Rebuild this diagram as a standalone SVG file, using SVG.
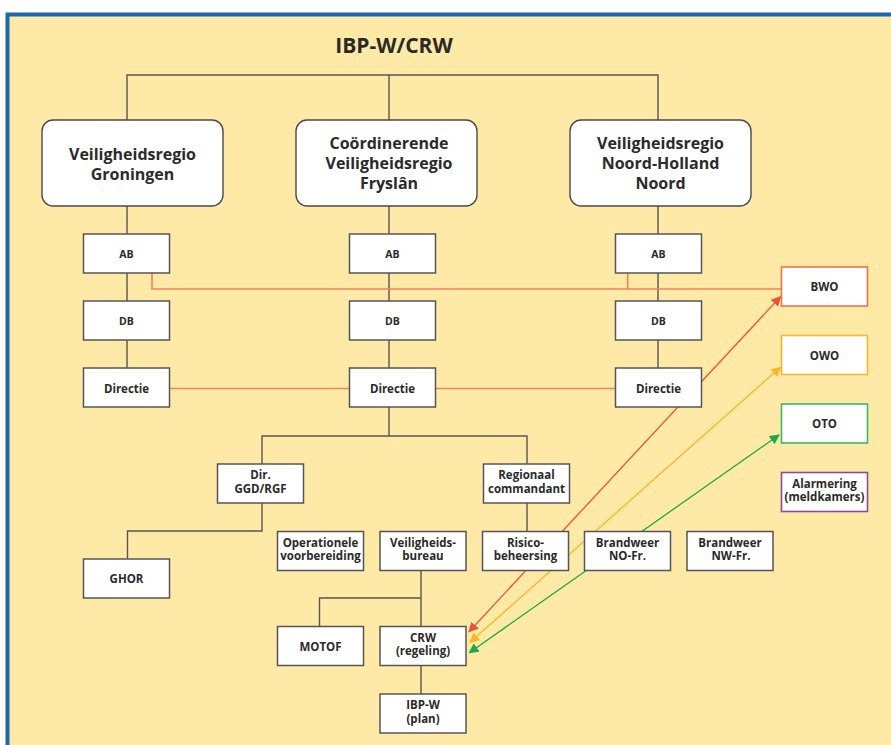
<svg xmlns="http://www.w3.org/2000/svg" width="891" height="745" viewBox="0 0 891 745">
<style>
.bg{fill:#feeaa6;stroke:#1d68ad;stroke-width:4}
.big{fill:#fff;stroke:#4a4a4a;stroke-width:1.4}
.box{fill:#fff;stroke:#555;stroke-width:1.5}
.t{font-family:"Open Sans","Noto Sans",sans-serif;font-weight:bold;fill:#2a2a2a;text-anchor:middle}
.tb{font-size:16px}
.ts{font-size:11.5px}
.tab{font-size:10.5px}
.con{fill:none;stroke:#555;stroke-width:1.4}
.org{fill:none;stroke:#f2835f;stroke-width:1.6}
</style>
<defs>
<marker id="mr" viewBox="0 0 10 10" refX="9" refY="5" markerWidth="10" markerHeight="10" markerUnits="userSpaceOnUse" orient="auto-start-reverse"><path d="M0,0 L10,5 L0,10 Z" fill="#e9533a"/></marker>
<marker id="mo" viewBox="0 0 10 10" refX="9" refY="5" markerWidth="10" markerHeight="10" markerUnits="userSpaceOnUse" orient="auto-start-reverse"><path d="M0,0 L10,5 L0,10 Z" fill="#fbb526"/></marker>
<marker id="mg" viewBox="0 0 10 10" refX="9" refY="5" markerWidth="10" markerHeight="10" markerUnits="userSpaceOnUse" orient="auto-start-reverse"><path d="M0,0 L10,5 L0,10 Z" fill="#1aa84a"/></marker>
</defs>
<rect x="0" y="0" width="891" height="745" fill="#fff"/>
<rect class="bg" x="7.5" y="14.5" width="900" height="760"/>
<text class="t" x="394" y="53" style="font-size:21px">IBP-W/CRW</text>

<g id="connectors">
<path class="con" d="M127,120 V75 H658 V120 M389,75 V120"/>
<path class="con" d="M127,206 V234 M127,273 V301 M127,340 V368"/>
<path class="con" d="M389,206 V234 M389,273 V301 M389,340 V368"/>
<path class="con" d="M658,206 V234 M658,273 V301 M658,340 V368"/>
<path class="con" d="M389,407 V436 M262,464 V436 H527 V464 M527,503 V531.5"/>
<path class="con" d="M262,503 V531 H127.5 V559"/>
<path class="con" d="M421,570.5 V598 M319.5,626.5 V598 H421 V626.5 M421,665.5 V694"/>
<path class="org" d="M152,273 V289 H781.5 M627.7,273 V289"/>
<path class="org" d="M170,388.5 H349.5 M435.5,388.5 H615.5"/>
<line x1="469" y1="631.7" x2="780.5" y2="296.7" stroke="#e9533a" stroke-width="1.3" marker-start="url(#mr)" marker-end="url(#mr)"/>
<line x1="470" y1="642.3" x2="780.5" y2="367.3" stroke="#fbb526" stroke-width="1.3" marker-start="url(#mo)" marker-end="url(#mo)"/>
<line x1="469.3" y1="652.7" x2="779" y2="435" stroke="#1aa84a" stroke-width="1.3" marker-start="url(#mg)" marker-end="url(#mg)"/>
</g>

<g id="groningen"><rect class="big" x="42" y="120" width="181" height="86" rx="11"/>
<text class="t tb" x="132.5" y="160">Veiligheidsregio</text><text class="t tb" x="132.5" y="180">Groningen</text></g>
<g id="fryslan"><rect class="big" x="296" y="120" width="181" height="86" rx="11"/>
<text class="t tb" x="389" y="149">Coördinerende</text><text class="t tb" x="389" y="169">Veiligheidsregio</text><text class="t tb" x="389" y="189">Fryslân</text></g>
<g id="nhn"><rect class="big" x="570" y="120" width="181" height="86" rx="11"/>
<text class="t tb" x="660.5" y="148.5">Veiligheidsregio</text><text class="t tb" x="660.5" y="168.5">Noord-Holland</text><text class="t tb" x="660.5" y="188.5">Noord</text></g>

<g id="ab1"><rect class="box" x="83.5" y="234" width="86" height="39"/><text class="t tab" x="126.5" y="257.5">AB</text></g>
<g id="ab2"><rect class="box" x="349.5" y="234" width="86" height="39"/><text class="t tab" x="392.5" y="257.5">AB</text></g>
<g id="ab3"><rect class="box" x="615.5" y="234" width="86" height="39"/><text class="t tab" x="658.5" y="257.5">AB</text></g>
<g id="db1"><rect class="box" x="83.5" y="301" width="86" height="39"/><text class="t tab" x="126.5" y="324.5">DB</text></g>
<g id="db2"><rect class="box" x="349.5" y="301" width="86" height="39"/><text class="t tab" x="392.5" y="324.5">DB</text></g>
<g id="db3"><rect class="box" x="615.5" y="301" width="86" height="39"/><text class="t tab" x="658.5" y="324.5">DB</text></g>
<g id="dir1"><rect class="box" x="83.5" y="368" width="86" height="39"/><text class="t ts" x="126.5" y="392.5">Directie</text></g>
<g id="dir2"><rect class="box" x="349.5" y="368" width="86" height="39"/><text class="t ts" x="392.5" y="392.5">Directie</text></g>
<g id="dir3"><rect class="box" x="615.5" y="368" width="86" height="39"/><text class="t ts" x="658.5" y="392.5">Directie</text></g>

<g id="ggd"><rect class="box" x="217.5" y="464" width="86" height="39"/><text class="t ts" x="260.5" y="479">Dir.</text><text class="t ts" x="260.5" y="492.5">GGD/RGF</text></g>
<g id="regcom"><rect class="box" x="483.5" y="464" width="86" height="39"/><text class="t ts" x="526.5" y="479">Regionaal</text><text class="t ts" x="526.5" y="492.5">commandant</text></g>
<g id="ghor"><rect class="box" x="83.5" y="559" width="86" height="39"/><text class="t ts" x="126.5" y="583">GHOR</text></g>
<g id="opvoorb"><rect class="box" x="277.5" y="531.5" width="86" height="39"/><text class="t ts" x="320.5" y="546.5">Operationele</text><text class="t ts" x="320.5" y="560">voorbereiding</text></g>
<g id="vb"><rect class="box" x="380" y="531.5" width="86" height="39"/><text class="t ts" x="423" y="546.5">Veiligheids-</text><text class="t ts" x="423" y="560">bureau</text></g>
<g id="risico"><rect class="box" x="482.5" y="531.5" width="86" height="39"/><text class="t ts" x="525.5" y="546.5">Risico-</text><text class="t ts" x="525.5" y="560">beheersing</text></g>
<g id="bwnofr"><rect class="box" x="584.5" y="531.5" width="86" height="39"/><text class="t ts" x="627.5" y="546.5">Brandweer</text><text class="t ts" x="627.5" y="560">NO-Fr.</text></g>
<g id="bwnwfr"><rect class="box" x="687" y="531.5" width="86" height="39"/><text class="t ts" x="730" y="546.5">Brandweer</text><text class="t ts" x="731" y="560">NW-Fr.</text></g>
<g id="motof"><rect class="box" x="277.5" y="626.5" width="86" height="39"/><text class="t ts" x="320.5" y="650.5">MOTOF</text></g>
<g id="crw"><rect class="box" x="380" y="626.5" width="86" height="39"/><text class="t ts" x="423" y="641.5">CRW</text><text class="t ts" x="423" y="655">(regeling)</text></g>
<g id="ibpw"><rect class="box" x="380" y="694" width="86" height="39"/><text class="t ts" x="423" y="709">IBP-W</text><text class="t ts" x="423" y="722.5">(plan)</text></g>

<g id="bwo"><rect x="781.5" y="267" width="86" height="39" fill="#fff" stroke="#f0704f" stroke-width="1.6"/><text class="t ts" x="824.5" y="291">BWO</text></g>
<g id="owo"><rect x="781.5" y="335.5" width="86" height="39" fill="#fff" stroke="#fbb52a" stroke-width="1.6"/><text class="t ts" x="824.5" y="359.5">OWO</text></g>
<g id="oto"><rect x="781.5" y="404" width="86" height="39" fill="#fff" stroke="#3db76a" stroke-width="1.6"/><text class="t ts" x="824.5" y="428">OTO</text></g>
<g id="alarm"><rect x="781.5" y="472.5" width="86" height="39" fill="#fff" stroke="#8c4a9b" stroke-width="1.6"/><text class="t ts" x="824.5" y="487.5">Alarmering</text><text class="t ts" x="824.5" y="501">(meldkamers)</text></g>
</svg>
